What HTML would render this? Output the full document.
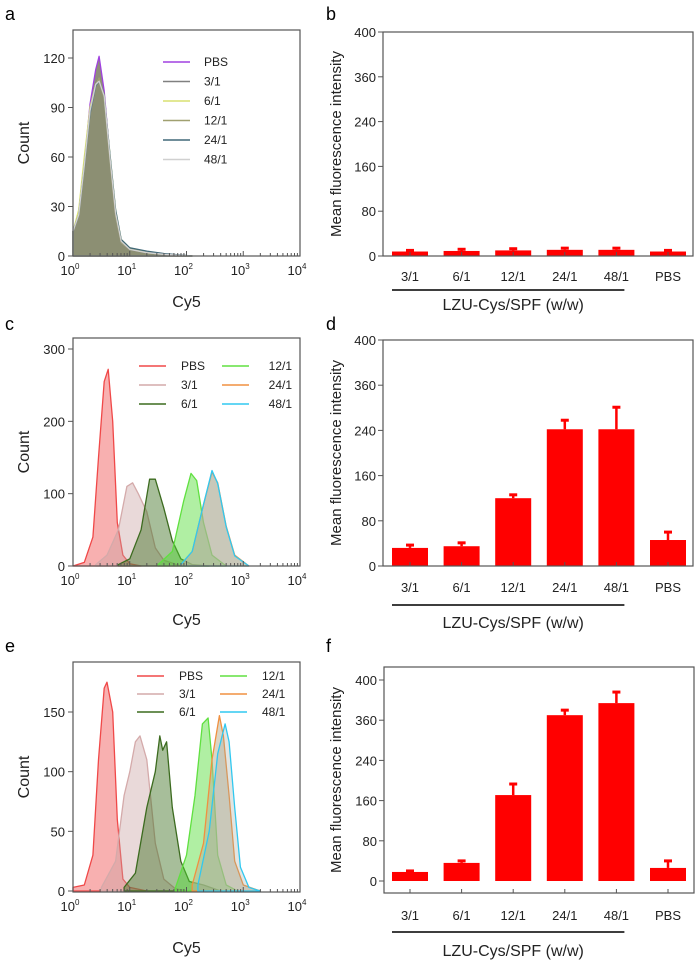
<!DOCTYPE html>
<html><head><meta charset="utf-8"><style>
html,body{margin:0;padding:0;background:#fff;}
svg{display:block;font-family:"Liberation Sans",Arial,sans-serif;}
</style></head><body>
<svg id="fig" width="700" height="971" viewBox="0 0 700 971" xmlns="http://www.w3.org/2000/svg">
<text x="5" y="20" font-size="18">a</text>
<text x="326" y="20" font-size="18">b</text>
<text x="5" y="330" font-size="18">c</text>
<text x="326" y="330" font-size="18">d</text>
<text x="5" y="652" font-size="18">e</text>
<text x="326" y="652" font-size="18">f</text>
</svg>
<script>
// ---------- data ----------
const categories = ["3/1","6/1","12/1","24/1","48/1","PBS"];
const yTickValues = [0,80,160,240,320,400];
const yTickLabels = ["0","80","160","240","360","400"];
const bValues = [8,9,10,11,11,8];
const bErrors = [10,12,13,14,14,10];
const dValues = [32,35,120,242,242,46];
const dErrors = [37,41,126,258,281,60];
const fValues = [18,36,171,330,354,26];
const fErrors = [20,40,193,340,376,40];

const histXTickLabels = ["0","1","2","3","4"];
const seriesNames = ["PBS","3/1","6/1","12/1","24/1","48/1"];
const aYTicks = [0,30,60,90,120];
const cYTicks = [0,100,200,300];
const eYTicks = [0,50,100,150];
// histogram samples: [log10(Cy5), count]
const aPBS  = [[0,15],[0.1,25],[0.2,55],[0.3,92],[0.4,113],[0.46,121],[0.55,100],[0.65,60],[0.75,25],[0.85,8],[1,4],[1.3,2],[1.6,1],[2.1,0]];
const a31   = [[0,15],[0.1,25],[0.2,55],[0.3,88],[0.4,105],[0.46,108],[0.55,98],[0.65,60],[0.75,26],[0.85,9],[1,4],[1.3,2],[1.6,1],[2.1,0]];
const a61   = [[0,15],[0.1,28],[0.2,60],[0.3,90],[0.4,104],[0.46,106],[0.55,96],[0.65,62],[0.75,28],[0.85,10],[1,5],[1.3,2],[1.6,1],[2.1,0]];
const a121  = [[0,15],[0.1,25],[0.2,55],[0.3,88],[0.4,104],[0.46,108],[0.55,96],[0.65,58],[0.75,24],[0.85,8],[1,4],[1.3,2],[1.6,1],[2.1,0]];
const a241  = [[0,15],[0.1,25],[0.2,54],[0.3,86],[0.4,103],[0.46,106],[0.55,97],[0.65,62],[0.75,28],[0.85,10],[1,5],[1.3,3],[1.6,1.5],[2.1,0]];
const a481  = [[0,15],[0.1,25],[0.2,55],[0.3,88],[0.4,104],[0.46,106],[0.55,97],[0.65,60],[0.75,26],[0.85,9],[1,4],[1.3,2],[1.6,1],[2.1,0]];
const cPBS  = [[0,0],[0.2,5],[0.35,40],[0.45,150],[0.55,255],[0.62,272],[0.7,200],[0.78,60],[0.88,15],[1,3],[1.2,0]];
const c31   = [[0.4,2],[0.6,15],[0.8,50],[0.95,110],[1.05,115],[1.15,100],[1.3,75],[1.45,25],[1.6,8],[1.9,0]];
const c61   = [[0.8,2],[1.0,10],[1.2,50],[1.35,120],[1.45,120],[1.6,80],[1.75,35],[1.9,10],[2.1,2],[2.4,0]];
const c121  = [[1.5,2],[1.75,20],[1.95,90],[2.08,128],[2.18,118],[2.3,60],[2.45,15],[2.7,0]];
const c241  = [[1.9,2],[2.1,20],[2.3,85],[2.45,130],[2.55,115],[2.7,55],[2.85,15],[3.1,0]];
const c481  = [[1.9,2],[2.1,20],[2.3,85],[2.45,132],[2.55,114],[2.7,54],[2.85,14],[3.1,0]];
const ePBS  = [[0,3],[0.2,5],[0.35,30],[0.45,110],[0.55,170],[0.6,175],[0.7,150],[0.78,60],[0.88,10],[1,3],[1.3,0]];
const e31   = [[0.5,3],[0.75,25],[0.9,80],[1.0,100],[1.1,125],[1.18,130],[1.3,110],[1.45,40],[1.6,10],[1.8,2],[2.0,0]];
const e61   = [[0.9,3],[1.1,15],[1.3,70],[1.45,100],[1.53,130],[1.58,118],[1.65,125],[1.75,70],[1.9,25],[2.05,8],[2.3,5],[2.6,0]];
const e121  = [[1.8,2],[2.0,30],[2.15,80],[2.28,140],[2.38,145],[2.45,110],[2.55,30],[2.7,5],[2.9,0]];
const e241  = [[2.1,5],[2.3,40],[2.45,110],[2.58,147],[2.65,130],[2.75,80],[2.85,25],[3.0,5],[3.3,0]];
const e481  = [[2.2,5],[2.4,50],[2.55,115],[2.68,140],[2.75,125],[2.85,70],[2.95,20],[3.1,3],[3.3,0]];

// ---------- drawing ----------
const NS="http://www.w3.org/2000/svg";
const svg=document.getElementById('fig');
function mk(tag,attrs,parent){const e=document.createElementNS(NS,tag);for(const k in attrs)e.setAttribute(k,attrs[k]);(parent||svg).appendChild(e);return e;}

function histPanel(id,box,yMax,yTicks,series,colors,fills,legendLayout,titleY){
  const g=mk('g',{});
  
  
  const X=v=>box.l+(box.r-box.l)*v/4;
  const Y=v=>box.y0-(box.y0-box.yTop)*v/yMax;
  series.forEach((s,i)=>{
    let d='M'+X(s[0][0])+','+Y(0);
    s.forEach(p=>{d+=' L'+X(p[0]).toFixed(1)+','+Y(p[1]).toFixed(1);});
    d+=' L'+X(s[s.length-1][0])+','+Y(0)+' Z';
    const p=mk('path',{d:d,fill:fills[i],stroke:colors[i],'stroke-width':1.3,'stroke-linejoin':'round'},g);
    
    
  });
  const fr=mk('rect',{x:box.l,y:box.t,width:box.r-box.l,height:box.b-box.t,fill:'none',stroke:'#555','stroke-width':1.2},g);
  
  
  histXTickLabels.forEach((lab,i)=>{
    mk('line',{x1:X(i),x2:X(i),y1:box.b,y2:box.b-5,stroke:'#555'},g);
    const t=mk('text',{x:X(i)-3,y:box.b+19,'font-size':13,'text-anchor':'middle',fill:'#222'},g);
    t.textContent='10';
    const s=mk('tspan',{dy:-6,'font-size':8},t);s.textContent=lab;
    
    
    if(i<4)for(let k=2;k<10;k++){const xx=X(i+Math.log10(k));mk('line',{x1:xx,x2:xx,y1:box.b,y2:box.b-3,stroke:'#555'},g);}
  });
  yTicks.forEach(v=>{
    mk('line',{x1:box.l,x2:box.l-5,y1:Y(v),y2:Y(v),stroke:'#555'},g);
    const t=mk('text',{x:box.l-8,y:Y(v)+5,'font-size':13,'text-anchor':'end',fill:'#222'},g);
    t.textContent=v;
    
    
  });
  const yt=mk('text',{x:0,y:0,'font-size':16,'text-anchor':'middle',fill:'#222',transform:`translate(${box.l-44},${(box.t+box.b)/2}) rotate(-90)`},g);
  yt.textContent='Count';
  
  
  const xt=mk('text',{x:(box.l+box.r)/2,y:titleY,'font-size':16,'text-anchor':'middle',fill:'#222'},g);
  xt.textContent='Cy5';
  
  
  seriesNames.forEach((n,i)=>{
    const L=legendLayout(i);
    const lg=mk('g',{},g);
    
    
    mk('line',{x1:L.x,x2:L.x+27,y1:L.y,y2:L.y,stroke:colors[i],'stroke-width':1.5},lg);
    const t=mk('text',{x:L.x+L.tx,y:L.y+4,'font-size':12,fill:'#222','text-anchor':L.anchor},lg);
    t.textContent=n;
  });
}

function barPanel(id,box,vals,errs,labelY,lineY,titleY){
  const g=mk('g',{});
  
  
  const Y=v=>box.y0-(box.y0-box.yTop)*v/400;
  const X=i=>box.c0+i*box.step;
  const bw=36;
  vals.forEach((v,i)=>{
    const r=mk('rect',{x:X(i)-bw/2,y:Y(v),width:bw,height:Y(0)-Y(v),fill:'#ff0000'},g);
    
    
    const e=mk('g',{},g);
    
    
    mk('line',{x1:X(i),x2:X(i),y1:Y(v),y2:Y(errs[i]),stroke:'#ff0000','stroke-width':2.5},e);
    mk('line',{x1:X(i)-4,x2:X(i)+4,y1:Y(errs[i]),y2:Y(errs[i]),stroke:'#ff0000','stroke-width':3},e);
    const t=mk('text',{x:X(i),y:labelY,'font-size':13,'text-anchor':'middle',fill:'#222'},g);
    t.textContent=categories[i];
    
    
    mk('line',{x1:X(i),x2:X(i),y1:box.b,y2:box.b-4,stroke:'#555'},g);
  });
  const fr=mk('rect',{x:box.l,y:box.t,width:box.r-box.l,height:box.b-box.t,fill:'none',stroke:'#555','stroke-width':1.2},g);
  
  
  yTickValues.forEach((v,i)=>{
    mk('line',{x1:box.l,x2:box.l-5,y1:Y(v),y2:Y(v),stroke:'#555'},g);
    const t=mk('text',{x:box.l-7,y:Y(v)+5,'font-size':13,'text-anchor':'end',fill:'#222'},g);
    t.textContent=yTickLabels[i];
    
    
  });
  const yt=mk('text',{x:0,y:0,'font-size':15,'text-anchor':'middle',fill:'#222',transform:`translate(341,${(box.t+box.b)/2}) rotate(-90)`},g);
  yt.textContent='Mean fluorescence intensity';
  
  
  const gl=mk('line',{x1:X(0)-18,x2:X(4)+8,y1:lineY,y2:lineY,stroke:'#222','stroke-width':1.8},g);
  
  
  const xt=mk('text',{x:X(2),y:titleY,'font-size':16,'text-anchor':'middle',fill:'#222'},g);
  xt.textContent='LZU-Cys/SPF (w/w)';
  
  
}

const colorsA=['#a040e0','#808080','#d8e070','#a0a070','#406878','#d0d0d0'];
const fillsA=['rgba(130,130,105,0.9)','rgba(120,120,90,0.3)','rgba(160,160,90,0.3)','rgba(120,120,90,0.3)','rgba(100,110,90,0.25)','rgba(200,200,190,0.2)'];
const colorsC=['#f04848','#d4aaaa','#3c6b1f','#60e040','#f09040','#30c8f0'];
const fillsC=['rgba(240,80,80,0.45)','rgba(200,160,160,0.4)','rgba(60,110,30,0.45)','rgba(80,220,50,0.45)','rgba(190,180,150,0.55)','rgba(160,170,160,0.3)'];

histPanel('a',{l:73,r:300,t:30,b:256,y0:256,yTop:58},120,aYTicks,[aPBS,a31,a61,a121,a241,a481],colorsA,fillsA,
  i=>({x:163,y:62+i*19.5,tx:41,anchor:'start'}),307);
histPanel('c',{l:73,r:300,t:338,b:566,y0:566,yTop:349},300,cYTicks,[cPBS,c31,c61,c121,c241,c481],colorsC,fillsC,
  i=>({x:(i<3?139:222),y:366+(i%3)*19,tx:(i<3?42:70),anchor:(i<3?'start':'end')}),625);
histPanel('e',{l:73,r:300,t:662,b:892,y0:891,yTop:712},150,eYTicks,[ePBS,e31,e61,e121,e241,e481],colorsC,fillsC,
  i=>({x:(i<3?137:220),y:676+(i%3)*18,tx:42,anchor:'start'}),953);

barPanel('b',{l:383,r:693,t:32,b:256,y0:256,yTop:32,c0:410,step:51.6},bValues,bErrors,281,290,310);
barPanel('d',{l:383,r:693,t:340,b:566,y0:566,yTop:340,c0:410,step:51.6},dValues,dErrors,592,605,628);
barPanel('f',{l:384,r:694,t:667,b:893,y0:881,yTop:680,c0:410,step:51.6},fValues,fErrors,920,932,956);
</script>
</body></html>
